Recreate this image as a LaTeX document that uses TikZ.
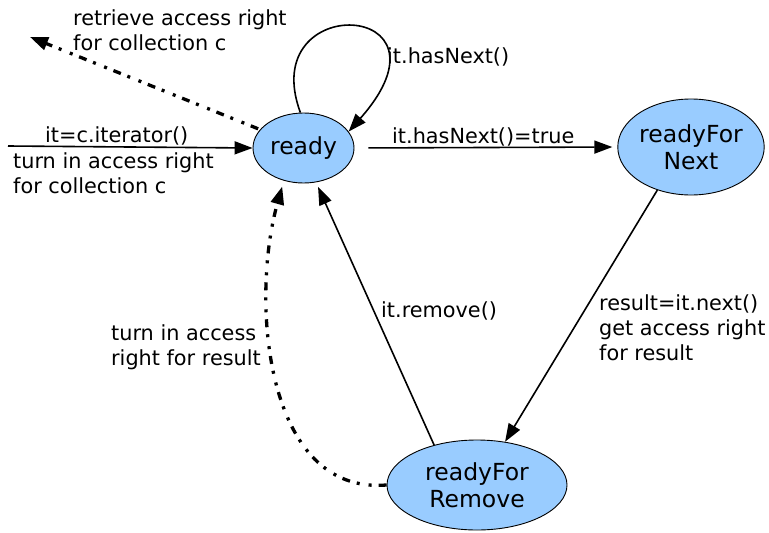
\documentclass[tikz,border=0pt]{standalone}
\usepackage{fontspec}
\setmainfont{DejaVu Sans}
\usetikzlibrary{arrows.meta,shapes.geometric}
\definecolor{statefill}{RGB}{153,204,255}
\tikzset{
  state/.style={ellipse, draw=black, line width=0.9pt, fill=statefill,
    inner sep=0pt, align=center, font=\fontsize{23.5}{27}\selectfont},
  % anchored at the baseline of the last text line
  lbl/.style={inner sep=0pt, anchor=base west, align=left,
    font=\fontsize{20.8}{25}\selectfont},
  tip/.style={-{Triangle[length=18pt,width=13pt]}},
  trans/.style={tip, line width=1.6pt},
  rights/.style={tip, line width=3.3pt,
    dash pattern=on 8pt off 7pt on 3pt off 9pt on 3pt off 7pt}
}
\begin{document}
\begin{tikzpicture}[x=1pt,y=-1pt]
\useasboundingbox (0,0) rectangle (769,533);

% states
\node[state, minimum width=101pt, minimum height=70pt] (ready) at (303.5,148) {ready};
\node[state, minimum width=128pt, minimum height=96pt] (next) at (691,147) {readyFor\\Next};
\node[state, minimum width=180pt, minimum height=90pt] (rm) at (477,485) {readyFor\\Remove};

% free ends
\coordinate (start) at (8,146);
\coordinate (outer) at (30,37);

% transitions
\draw[trans] (start) -- (ready.west);
\draw[rights, shorten <=2pt] (ready.157) -- (outer);
\draw[trans] (ready.95) .. controls (255,-10) and (465,0) .. (ready.20);
\draw[trans, shorten <=14pt, shorten >=5pt] (ready.east) -- (next.west);
\draw[trans] (next.232) -- (rm.57);
\draw[trans, shorten >=5pt] (rm.137) -- (ready.-70);
\draw[rights, shorten >=6pt] (rm.west) .. controls (265,495) and (250,300) .. (ready.239);

% labels
\node[lbl] (lret) at (73,50) {retrieve access right\\for collection c};
\node[lbl] (liter) at (45,142) {it=c.iterator()};
\node[lbl] (lturn) at (13,193) {turn in access right\\for collection c};
\node[lbl] (lloop) at (387,63) {it.hasNext()};
\node[lbl] (ltrue) at (392,143) {it.hasNext()=true};
\node[lbl] (lnext) at (599,360) {result=it.next()\\get access right\\for result};
\node[lbl] (lremove) at (381,317) {it.remove()};
\node[lbl] (lres) at (111,365) {turn in access\\right for result};
\end{tikzpicture}
\end{document}
